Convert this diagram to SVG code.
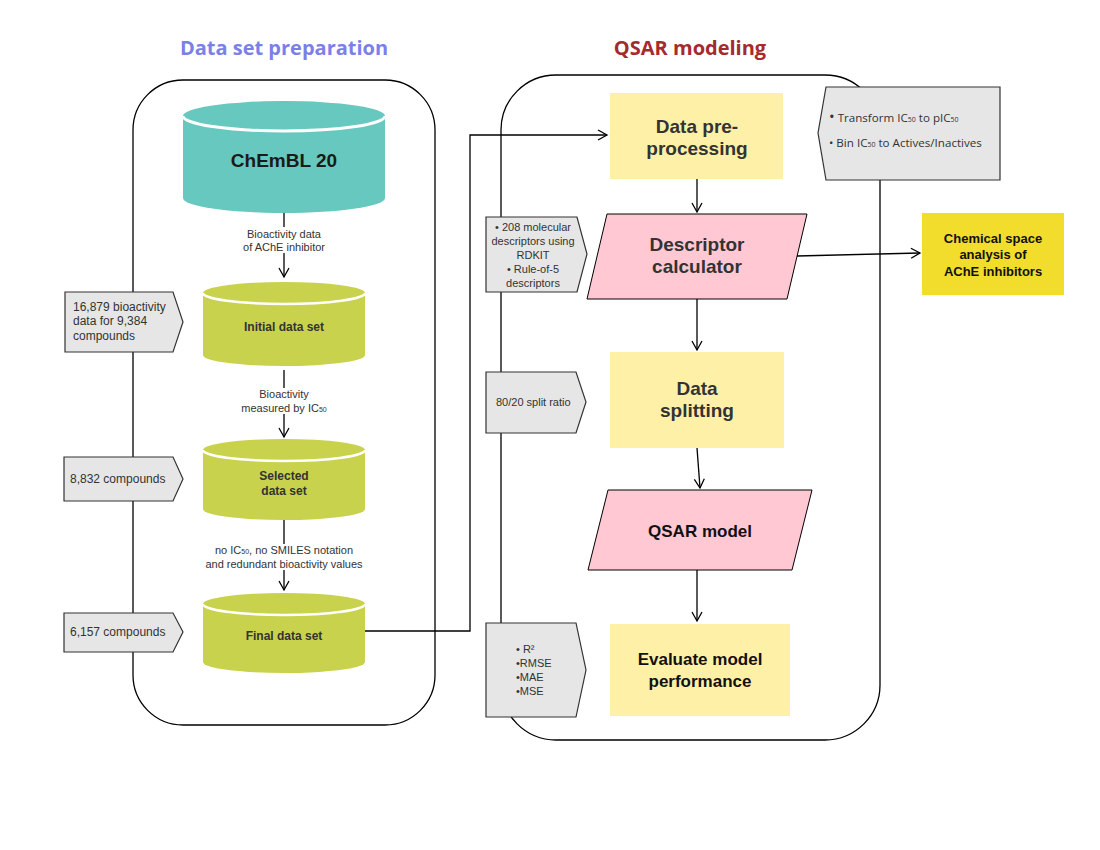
<svg xmlns="http://www.w3.org/2000/svg" width="1100" height="850" viewBox="0 0 1100 850">
<defs>
<marker id="arr" markerWidth="12" markerHeight="12" refX="10" refY="6" orient="auto" markerUnits="userSpaceOnUse">
<polyline points="1,1 10,6 1,11" fill="none" stroke="#000" stroke-width="1.3"/>
</marker>
</defs>
<style>
.cont{fill:none;stroke:#000;stroke-width:1.3}
.grey{fill:#e6e6e6;stroke:#333;stroke-width:1.2}
.note{font-family:"Liberation Sans",Arial,sans-serif;font-size:12px;fill:#333}
.small{font-family:"Liberation Sans",Arial,sans-serif;font-size:11px;fill:#333}
.lbl{font-family:"Liberation Sans",Arial,sans-serif;font-size:11px;fill:#333;text-anchor:middle}
.cyl{font-family:"Liberation Sans",Arial,sans-serif;font-size:12px;font-weight:bold;fill:#333;text-anchor:middle}
.big{font-family:"Liberation Sans",Arial,sans-serif;font-size:19px;font-weight:bold;fill:#333;text-anchor:middle}
.mid{font-family:"Liberation Sans",Arial,sans-serif;font-size:17px;font-weight:bold;fill:#111;text-anchor:middle}
.ot{font-family:"Open Sans","Noto Sans",sans-serif;font-size:11.6px;fill:#333}
.edge{fill:none;stroke:#000;stroke-width:1.3}
.title{font-family:"Open Sans","Noto Sans",sans-serif;font-size:20px;font-weight:bold;text-anchor:middle}
</style>
<rect width="1100" height="850" fill="#fff"/>
<text class="title" x="284" y="55" fill="#7b80e8">Data set preparation</text>
<text class="title" x="690" y="55" fill="#a52a2e">QSAR modeling</text>

<g id="containers">
<rect class="cont" x="133" y="80" width="302" height="645" rx="50" ry="50"/>
<rect class="cont" x="501" y="75" width="379" height="665" rx="55" ry="55"/>
</g>

<g id="chembl">
<path d="M183,116 A101,15 0 0 1 385,116 V198 A101,15 0 0 1 183,198 Z" fill="#66c8be"/>
<path d="M183,116 A101,15 0 0 0 385,116" fill="none" stroke="#fff" stroke-width="3"/>
<text x="284" y="167" text-anchor="middle" font-family="Liberation Sans,Arial,sans-serif" font-size="19" font-weight="bold" fill="#1a1a1a">ChEmBL 20</text>
</g>
<g id="initial">
<path d="M203,293 A81,11 0 0 1 365,293 V355 A81,11 0 0 1 203,355 Z" fill="#c9d24c"/>
<path d="M203,293 A81,11 0 0 0 365,293" fill="none" stroke="#fff" stroke-width="2.5"/>
<text class="cyl" x="284" y="331">Initial data set</text>
</g>
<g id="selected">
<path d="M203,450 A81,11 0 0 1 365,450 V509 A81,11 0 0 1 203,509 Z" fill="#c9d24c"/>
<path d="M203,450 A81,11 0 0 0 365,450" fill="none" stroke="#fff" stroke-width="2.5"/>
<text class="cyl" x="284" y="480">Selected</text>
<text class="cyl" x="284" y="495">data set</text>
</g>
<g id="final">
<path d="M203,604 A81,11 0 0 1 365,604 V662 A81,11 0 0 1 203,662 Z" fill="#c9d24c"/>
<path d="M203,604 A81,11 0 0 0 365,604" fill="none" stroke="#fff" stroke-width="2.5"/>
<text class="cyl" x="284" y="640">Final data set</text>
</g>

<g id="note1">
<polygon class="grey" points="65,292 173,292 183,322 173,352 65,352"/>
<text class="note" x="73" y="311">16,879 bioactivity</text>
<text class="note" x="73" y="325">data for 9,384</text>
<text class="note" x="73" y="340">compounds</text>
</g>
<g id="note2">
<polygon class="grey" points="64,457 173,457 183,479 173,501 64,501"/>
<text class="note" x="70" y="483">8,832 compounds</text>
</g>
<g id="note3">
<polygon class="grey" points="64,613 173,613 183,632 173,652 64,652"/>
<text class="note" x="70" y="636">6,157 compounds</text>
</g>

<g id="preproc">
<rect x="610" y="93" width="173" height="86" fill="#fff0a8"/>
<text class="big" x="697" y="133">Data pre-</text>
<text class="big" x="697" y="155">processing</text>
</g>
<g id="descriptor">
<polygon points="607,214 807,214 787,299 587,299" fill="#ffc8d3" stroke="#000" stroke-width="1"/>
<text class="big" x="697" y="251">Descriptor</text>
<text class="big" x="697" y="273">calculator</text>
</g>
<g id="chemspace">
<rect x="922" y="213" width="142" height="82" fill="#f2dc2c"/>
<text x="993" y="243" text-anchor="middle" font-family="Liberation Sans,Arial,sans-serif" font-size="13" font-weight="bold" fill="#111">Chemical space</text>
<text x="993" y="259" text-anchor="middle" font-family="Liberation Sans,Arial,sans-serif" font-size="13" font-weight="bold" fill="#111">analysis of</text>
<text x="993" y="276" text-anchor="middle" font-family="Liberation Sans,Arial,sans-serif" font-size="13" font-weight="bold" fill="#111">AChE inhibitors</text>
</g>
<g id="splitting">
<rect x="610" y="352" width="174" height="96" fill="#fff0a8"/>
<text class="big" x="697" y="395">Data</text>
<text class="big" x="697" y="417">splitting</text>
</g>
<g id="qsar">
<polygon points="608,490 812,490 792,570 588,570" fill="#ffc8d3" stroke="#000" stroke-width="1"/>
<text class="mid" x="700" y="537">QSAR model</text>
</g>
<g id="evaluate">
<rect x="610" y="624" width="180" height="92" fill="#fff0a8"/>
<text class="mid" x="700" y="665">Evaluate model</text>
<text class="mid" x="700" y="687">performance</text>
</g>

<g id="note4">
<polygon class="grey" points="486,217 577,217 587,254 577,292 486,292"/>
<text class="lbl" x="533" y="231">• 208 molecular</text>
<text class="lbl" x="533" y="245">descriptors using</text>
<text class="lbl" x="533" y="259">RDKIT</text>
<text class="lbl" x="533" y="273">• Rule-of-5</text>
<text class="lbl" x="533" y="287">descriptors</text>
</g>
<g id="note5">
<polygon class="grey" points="486,372 576,372 586,402 576,433 486,433"/>
<text class="small" x="496" y="406">80/20 split ratio</text>
</g>
<g id="note6">
<polygon class="grey" points="486,623 576,623 586,670 576,717 486,717"/>
<text class="small" x="516" y="653">• R²</text>
<text class="small" x="516" y="667">•RMSE</text>
<text class="small" x="516" y="681">•MAE</text>
<text class="small" x="516" y="695">•MSE</text>
</g>
<g id="note7">
<polygon class="grey" points="826,87 1000,87 1000,180 826,180 818,133"/>
<text class="ot" x="829" y="122"><tspan font-size="15">•</tspan>  Transform IC<tspan font-size="7">50</tspan> to pIC<tspan font-size="7">50</tspan></text>
<text class="ot" x="829" y="147">• Bin IC<tspan font-size="7">50</tspan> to Actives/Inactives</text>
</g>

<g id="connectors">
<line class="edge" x1="284" y1="213" x2="284" y2="277" marker-end="url(#arr)"/>
<rect x="225" y="227" width="118" height="26" fill="#fff"/>
<text class="lbl" x="284" y="238">Bioactivity data</text>
<text class="lbl" x="284" y="251">of AChE inhibitor</text>
<line class="edge" x1="284" y1="370" x2="284" y2="437" marker-end="url(#arr)"/>
<rect x="240" y="388" width="92" height="26" fill="#fff"/>
<text class="lbl" x="284" y="398">Bioactivity</text>
<text class="lbl" x="284" y="412">measured by IC<tspan font-size="7">50</tspan></text>
<line class="edge" x1="284" y1="520" x2="284" y2="590" marker-end="url(#arr)"/>
<rect x="206" y="544" width="158" height="26" fill="#fff"/>
<text class="lbl" x="284" y="554">no IC<tspan font-size="7">50</tspan>, no SMILES notation</text>
<text class="lbl" x="284" y="568">and redundant bioactivity values</text>
<polyline class="edge" points="365,631 470,631 470,135 607,135" marker-end="url(#arr)"/>
<line class="edge" x1="697" y1="179" x2="697" y2="212" marker-end="url(#arr)"/>
<line class="edge" x1="797" y1="256" x2="920" y2="253" marker-end="url(#arr)"/>
<line class="edge" x1="697" y1="299" x2="697" y2="350" marker-end="url(#arr)"/>
<line class="edge" x1="697" y1="448" x2="700" y2="488" marker-end="url(#arr)"/>
<line class="edge" x1="697" y1="570" x2="697" y2="621" marker-end="url(#arr)"/>
</g>
</svg>
